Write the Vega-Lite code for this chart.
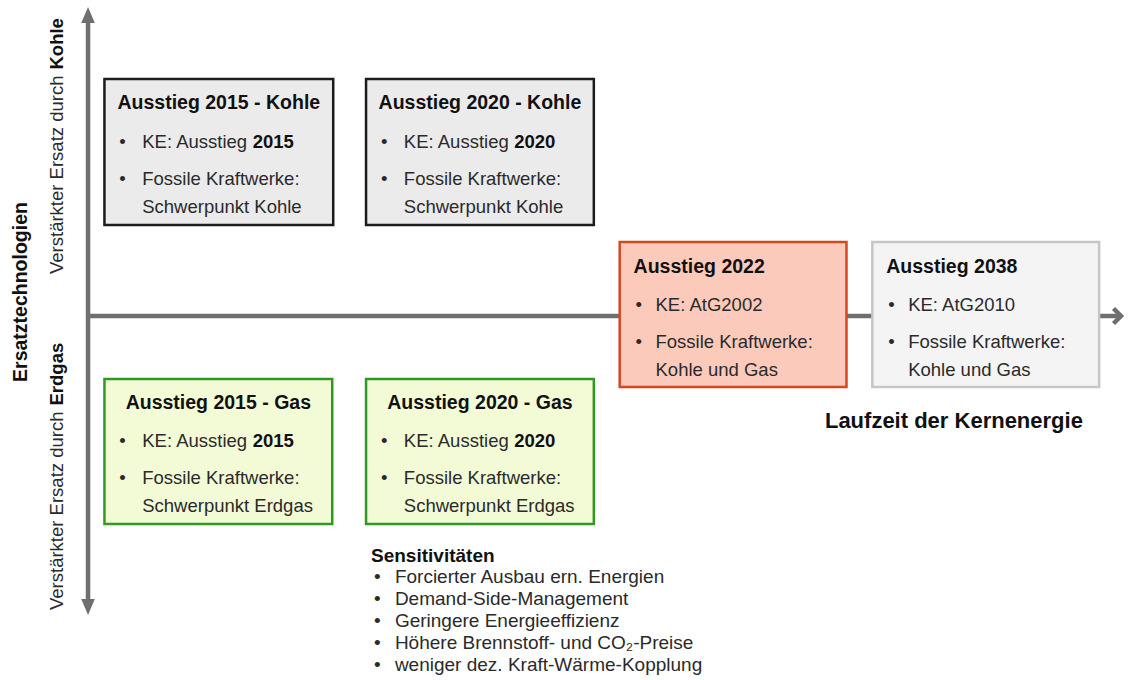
{
  "$schema": "https://vega.github.io/schema/vega-lite/v6.json",
  "width": 1130,
  "height": 680,
  "autosize": {"type": "fit", "contains": "padding"},
  "padding": 0,
  "background": "white",
  "config": {"view": {"stroke": null}, "text": {"font": "Liberation Sans"}},
  "datasets": {
    "boxes": [
      {"k": "kohle", "x": 105, "x2": 335, "y": 79, "y2": 225},
      {"k": "kohle", "x": 368, "x2": 597, "y": 79, "y2": 225},
      {"k": "a2022", "x": 623, "x2": 851, "y": 242, "y2": 387},
      {"k": "a2038", "x": 877, "x2": 1105, "y": 242, "y2": 387},
      {"k": "gas", "x": 105, "x2": 334, "y": 379, "y2": 524},
      {"k": "gas", "x": 368, "x2": 597, "y": 379, "y2": 524}
    ],
    "lines": [
      {"x": 88.5, "x2": 88.5, "y": 20, "y2": 600},
      {"x": 90, "x2": 1124, "y": 316, "y2": 316}
    ],
    "heads": [
      {"h": "up", "x": 88.5, "y": 15},
      {"h": "down", "x": 88.5, "y": 607},
      {"h": "right", "x": 1127, "y": 316}
    ],
    "texts": [
      {"s": "tc", "x": 220, "y": 109, "t": "Ausstieg 2015 - Kohle"},
      {"s": "b", "x": 120, "y": 148, "t": "•"},
      {"s": "b", "x": 143, "y": 148, "t": "KE: Ausstieg"},
      {"s": "bb", "x": 254, "y": 148, "t": "2015"},
      {"s": "b", "x": 120, "y": 185, "t": "•"},
      {"s": "b", "x": 143, "y": 185, "t": "Fossile Kraftwerke:"},
      {"s": "b", "x": 143, "y": 213, "t": "Schwerpunkt Kohle"},

      {"s": "tc", "x": 482.5, "y": 109, "t": "Ausstieg 2020 - Kohle"},
      {"s": "b", "x": 383, "y": 148, "t": "•"},
      {"s": "b", "x": 406, "y": 148, "t": "KE: Ausstieg"},
      {"s": "bb", "x": 517, "y": 148, "t": "2020"},
      {"s": "b", "x": 383, "y": 185, "t": "•"},
      {"s": "b", "x": 406, "y": 185, "t": "Fossile Kraftwerke:"},
      {"s": "b", "x": 406, "y": 213, "t": "Schwerpunkt Kohle"},

      {"s": "tl", "x": 637, "y": 273, "t": "Ausstieg 2022"},
      {"s": "b", "x": 639, "y": 311, "t": "•"},
      {"s": "b", "x": 659, "y": 311, "t": "KE: AtG2002"},
      {"s": "b", "x": 639, "y": 348, "t": "•"},
      {"s": "b", "x": 659, "y": 348, "t": "Fossile Kraftwerke:"},
      {"s": "b", "x": 659, "y": 376, "t": "Kohle und Gas"},

      {"s": "tl", "x": 891, "y": 273, "t": "Ausstieg 2038"},
      {"s": "b", "x": 893, "y": 311, "t": "•"},
      {"s": "b", "x": 913, "y": 311, "t": "KE: AtG2010"},
      {"s": "b", "x": 893, "y": 348, "t": "•"},
      {"s": "b", "x": 913, "y": 348, "t": "Fossile Kraftwerke:"},
      {"s": "b", "x": 913, "y": 376, "t": "Kohle und Gas"},

      {"s": "tc", "x": 219.5, "y": 409, "t": "Ausstieg 2015 - Gas"},
      {"s": "b", "x": 120, "y": 447, "t": "•"},
      {"s": "b", "x": 143, "y": 447, "t": "KE: Ausstieg"},
      {"s": "bb", "x": 254, "y": 447, "t": "2015"},
      {"s": "b", "x": 120, "y": 484, "t": "•"},
      {"s": "b", "x": 143, "y": 484, "t": "Fossile Kraftwerke:"},
      {"s": "b", "x": 143, "y": 512, "t": "Schwerpunkt Erdgas"},

      {"s": "tc", "x": 482.5, "y": 409, "t": "Ausstieg 2020 - Gas"},
      {"s": "b", "x": 383, "y": 447, "t": "•"},
      {"s": "b", "x": 406, "y": 447, "t": "KE: Ausstieg"},
      {"s": "bb", "x": 517, "y": 447, "t": "2020"},
      {"s": "b", "x": 383, "y": 484, "t": "•"},
      {"s": "b", "x": 406, "y": 484, "t": "Fossile Kraftwerke:"},
      {"s": "b", "x": 406, "y": 512, "t": "Schwerpunkt Erdgas"},

      {"s": "st", "x": 373, "y": 562, "t": "Sensitivitäten"},
      {"s": "s", "x": 376, "y": 583, "t": "•"},
      {"s": "s", "x": 397, "y": 583, "t": "Forcierter Ausbau ern. Energien"},
      {"s": "s", "x": 376, "y": 605, "t": "•"},
      {"s": "s", "x": 397, "y": 605, "t": "Demand-Side-Management"},
      {"s": "s", "x": 376, "y": 627, "t": "•"},
      {"s": "s", "x": 397, "y": 627, "t": "Geringere Energieeffizienz"},
      {"s": "s", "x": 376, "y": 649, "t": "•"},
      {"s": "s", "x": 397, "y": 649, "t": "Höhere Brennstoff- und CO₂-Preise"},
      {"s": "s", "x": 376, "y": 671, "t": "•"},
      {"s": "s", "x": 397, "y": 671, "t": "weniger dez. Kraft-Wärme-Kopplung"},

      {"s": "lz", "x": 959, "y": 428, "t": "Laufzeit der Kernenergie"},

      {"s": "rn", "x": 57, "y": 274, "t": "Verstärkter Ersatz durch"},
      {"s": "rb", "x": 57, "y": 69.5, "t": "Kohle"},
      {"s": "rn", "x": 57, "y": 610, "t": "Verstärkter Ersatz durch"},
      {"s": "rb", "x": 57, "y": 405.5, "t": "Erdgas"},
      {"s": "et", "x": 21, "y": 292, "t": "Ersatztechnologien"}
    ]
  },
  "layer": [
    {
      "data": {"name": "lines"},
      "mark": {"type": "rule", "color": "#6f6f6f", "strokeWidth": 4.5},
      "encoding": {
        "x": {"field": "x", "type": "quantitative", "scale": {"domain": [0, 1130], "nice": false, "zero": false}, "axis": null},
        "x2": {"field": "x2"},
        "y": {"field": "y", "type": "quantitative", "scale": {"domain": [0, 680], "nice": false, "zero": false, "reverse": true}, "axis": null},
        "y2": {"field": "y2"}
      }
    },
    {
      "data": {"name": "heads"},
      "transform": [{"filter": "datum.h !== 'right'"}],
      "mark": {"type": "point", "filled": true, "opacity": 1, "color": "#6f6f6f", "size": 256},
      "encoding": {
        "x": {"field": "x", "type": "quantitative", "axis": null},
        "y": {"field": "y", "type": "quantitative", "axis": null},
        "shape": {"field": "h", "type": "nominal", "legend": null,
          "scale": {"domain": ["up", "down"], "range": ["M0,-1L0.85,1L-0.85,1Z", "M0,1L0.85,-1L-0.85,-1Z"]}}
      }
    },
    {
      "data": {"name": "heads"},
      "transform": [{"filter": "datum.h === 'right'"}],
      "mark": {"type": "point", "filled": false, "opacity": 1, "color": "#6f6f6f", "strokeWidth": 4.5, "size": 225, "shape": "M-1,-1L0,0L-1,1"},
      "encoding": {
        "x": {"field": "x", "type": "quantitative", "axis": null},
        "y": {"field": "y", "type": "quantitative", "axis": null}
      }
    },
    {
      "data": {"name": "boxes"},
      "mark": {"type": "rect", "strokeWidth": 2.5},
      "encoding": {
        "x": {"field": "x", "type": "quantitative", "axis": null},
        "x2": {"field": "x2"},
        "y": {"field": "y", "type": "quantitative", "axis": null},
        "y2": {"field": "y2"},
        "fill": {"field": "k", "type": "nominal", "legend": null,
          "scale": {"domain": ["kohle", "a2022", "a2038", "gas"], "range": ["#ebebeb", "#fccabb", "#f4f4f4", "#f3fbd6"]}},
        "stroke": {"field": "k", "type": "nominal", "legend": null,
          "scale": {"domain": ["kohle", "a2022", "a2038", "gas"], "range": ["#1c1c1c", "#d4481f", "#c6c6c6", "#2f9a22"]}}
      }
    },
    {
      "data": {"name": "texts"},
      "transform": [{"filter": "datum.s === 'tc'"}],
      "mark": {"type": "text", "fontWeight": "bold", "fontSize": 19.5, "align": "center", "baseline": "alphabetic", "color": "#111111"},
      "encoding": {
        "x": {"field": "x", "type": "quantitative", "axis": null},
        "y": {"field": "y", "type": "quantitative", "axis": null},
        "text": {"field": "t"}
      }
    },
    {
      "data": {"name": "texts"},
      "transform": [{"filter": "datum.s === 'tl'"}],
      "mark": {"type": "text", "fontWeight": "bold", "fontSize": 19.5, "align": "left", "baseline": "alphabetic", "color": "#111111"},
      "encoding": {
        "x": {"field": "x", "type": "quantitative", "axis": null},
        "y": {"field": "y", "type": "quantitative", "axis": null},
        "text": {"field": "t"}
      }
    },
    {
      "data": {"name": "texts"},
      "transform": [{"filter": "datum.s === 'b'"}],
      "mark": {"type": "text", "fontSize": 18.5, "align": "left", "baseline": "alphabetic", "color": "#2a2a2a"},
      "encoding": {
        "x": {"field": "x", "type": "quantitative", "axis": null},
        "y": {"field": "y", "type": "quantitative", "axis": null},
        "text": {"field": "t"}
      }
    },
    {
      "data": {"name": "texts"},
      "transform": [{"filter": "datum.s === 'bb'"}],
      "mark": {"type": "text", "fontWeight": "bold", "fontSize": 18.5, "align": "left", "baseline": "alphabetic", "color": "#111111"},
      "encoding": {
        "x": {"field": "x", "type": "quantitative", "axis": null},
        "y": {"field": "y", "type": "quantitative", "axis": null},
        "text": {"field": "t"}
      }
    },
    {
      "data": {"name": "texts"},
      "transform": [{"filter": "datum.s === 'st'"}],
      "mark": {"type": "text", "fontWeight": "bold", "fontSize": 19, "align": "left", "baseline": "alphabetic", "color": "#111111"},
      "encoding": {
        "x": {"field": "x", "type": "quantitative", "axis": null},
        "y": {"field": "y", "type": "quantitative", "axis": null},
        "text": {"field": "t"}
      }
    },
    {
      "data": {"name": "texts"},
      "transform": [{"filter": "datum.s === 's'"}],
      "mark": {"type": "text", "fontSize": 19, "align": "left", "baseline": "alphabetic", "color": "#2a2a2a"},
      "encoding": {
        "x": {"field": "x", "type": "quantitative", "axis": null},
        "y": {"field": "y", "type": "quantitative", "axis": null},
        "text": {"field": "t"}
      }
    },
    {
      "data": {"name": "texts"},
      "transform": [{"filter": "datum.s === 'lz'"}],
      "mark": {"type": "text", "fontWeight": "bold", "fontSize": 22, "align": "center", "baseline": "alphabetic", "color": "#111111"},
      "encoding": {
        "x": {"field": "x", "type": "quantitative", "axis": null},
        "y": {"field": "y", "type": "quantitative", "axis": null},
        "text": {"field": "t"}
      }
    },
    {
      "data": {"name": "texts"},
      "transform": [{"filter": "datum.s === 'rn'"}],
      "mark": {"type": "text", "fontSize": 18.5, "angle": 270, "align": "left", "baseline": "middle", "color": "#2a2a2a"},
      "encoding": {
        "x": {"field": "x", "type": "quantitative", "axis": null},
        "y": {"field": "y", "type": "quantitative", "axis": null},
        "text": {"field": "t"}
      }
    },
    {
      "data": {"name": "texts"},
      "transform": [{"filter": "datum.s === 'rb'"}],
      "mark": {"type": "text", "fontWeight": "bold", "fontSize": 18.5, "angle": 270, "align": "left", "baseline": "middle", "color": "#111111"},
      "encoding": {
        "x": {"field": "x", "type": "quantitative", "axis": null},
        "y": {"field": "y", "type": "quantitative", "axis": null},
        "text": {"field": "t"}
      }
    },
    {
      "data": {"name": "texts"},
      "transform": [{"filter": "datum.s === 'et'"}],
      "mark": {"type": "text", "fontWeight": "bold", "fontSize": 19.5, "angle": 270, "align": "center", "baseline": "middle", "color": "#111111"},
      "encoding": {
        "x": {"field": "x", "type": "quantitative", "axis": null},
        "y": {"field": "y", "type": "quantitative", "axis": null},
        "text": {"field": "t"}
      }
    }
  ]
}
